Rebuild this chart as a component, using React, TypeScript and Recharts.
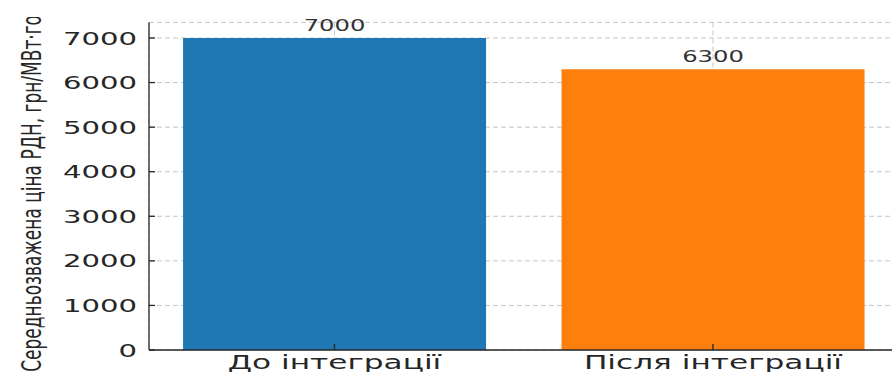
import React from 'react';
import { BarChart, Bar, XAxis, YAxis, CartesianGrid, Cell, LabelList } from 'recharts';

// Weighted-average day-ahead market price before and after integration
const categories = ['До інтеграції', 'Після інтеграції'];
const prices = [7000, 6300];
const barColors = ['#1f77b4', '#ff7f0e'];
const yTicks = [0, 1000, 2000, 3000, 4000, 5000, 6000, 7000];
const yLabel = 'Середньозважена ціна РДН, грн/МВт·год';

const data = categories.map((name, i) => ({ pos: i, name, price: prices[i] }));

const FONT = 'DejaVu Sans';
const STRETCH = 1.6;
const TEXT_COLOR = '#262626';

const YTick = (props: any) => {
  const { x, y, payload } = props;
  return (
    <g transform={`translate(${x},${y}) scale(${STRETCH},1)`}>
      <text x={0} y={0} dy="0.36em" textAnchor="end" fontFamily={FONT} fontSize={18.2} fill={TEXT_COLOR}>
        {payload.value}
      </text>
    </g>
  );
};

const XTick = (props: any) => {
  const { x, y, payload } = props;
  return (
    <g transform={`translate(${x},${y}) scale(${STRETCH},1)`}>
      <text x={0} y={0} dy="0.71em" textAnchor="middle" fontFamily={FONT} fontSize={19.5} fill={TEXT_COLOR}>
        {categories[payload.value]}
      </text>
    </g>
  );
};

const ValueLabel = (props: any) => {
  const { x, y, width, value } = props;
  return (
    <g transform={`translate(${x + width / 2},${y - 7}) scale(${STRETCH},1)`}>
      <text x={0} y={0} textAnchor="middle" fontFamily={FONT} fontSize={15.2} fill="#333333">
        {value}
      </text>
    </g>
  );
};

// Rotated y-axis title; the figure edge trims its far end
const AxisTitle = (props: any) => {
  const { viewBox } = props;
  const cy = viewBox.y + viewBox.height / 2 + 1.3;
  return (
    <g>
      <defs>
        <clipPath id="ytitle-clip">
          <rect x={0} y={17} width={80} height={400} />
        </clipPath>
      </defs>
      <g clipPath="url(#ytitle-clip)">
        <g transform={`translate(31,${cy}) scale(${STRETCH},1) rotate(-90)`}>
          <text x={0} y={0} dy="0.36em" textAnchor="middle" fontFamily={FONT} fontSize={17} fill={TEXT_COLOR}>
            {yLabel}
          </text>
        </g>
      </g>
    </g>
  );
};

export default function App() {
  return (
    <div style={{ position: 'fixed', left: 0, top: 0, width: 892, height: 372, overflow: 'hidden', background: '#fff' }}>
      <BarChart width={920} height={400} data={data} margin={{ top: 22.4, right: 21.6, bottom: 20, left: 0 }}>
        <XAxis
          dataKey="pos"
          type="number"
          domain={[-0.49, 1.49]}
          ticks={[0, 1]}
          allowDataOverflow
          height={30}
          tickSize={-6}
          tickMargin={11}
          tick={<XTick />}
          axisLine={{ stroke: '#262626', strokeWidth: 1.3 }}
          tickLine={{ stroke: '#262626', strokeWidth: 1.3 }}
        />
        <YAxis
          type="number"
          domain={[0, 7350]}
          ticks={yTicks}
          allowDataOverflow
          width={149}
          tickSize={-6}
          tickMargin={18}
          tick={<YTick />}
          axisLine={{ stroke: '#262626', strokeWidth: 1.3 }}
          tickLine={{ stroke: '#262626', strokeWidth: 1.3 }}
          label={<AxisTitle />}
        />
        <Bar dataKey="price" isAnimationActive={false}>
          {data.map((d, i) => (
            <Cell key={d.name} fill={barColors[i]} />
          ))}
          <LabelList dataKey="price" content={<ValueLabel />} />
        </Bar>
        <CartesianGrid stroke="#b8b8b8" strokeOpacity={0.8} strokeDasharray="5 3" />
      </BarChart>
    </div>
  );
}
